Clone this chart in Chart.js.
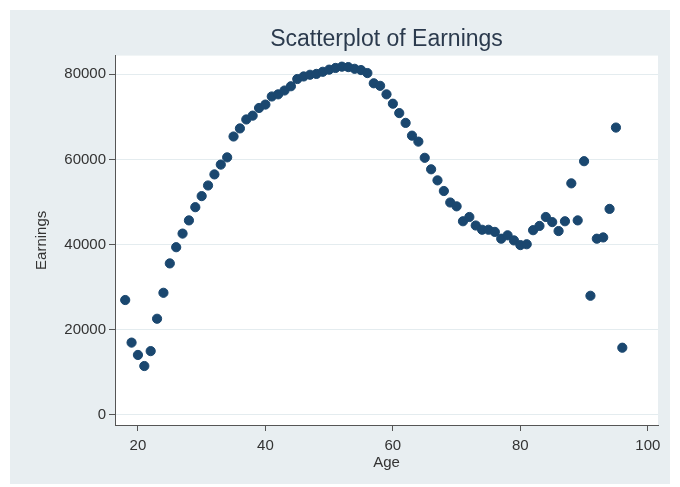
<!DOCTYPE html>
<html>
<head>
<meta charset="utf-8">
<script src="https://cdn.jsdelivr.net/npm/chart.js@4"></script>
<style>
    html, body { margin: 0; padding: 0; background: #ffffff; }
    #wrap { width: 680px; height: 487px; }
</style>
</head>
<body>
<div id="wrap"><canvas id="earningsChart" width="680" height="487"></canvas></div>
<script>
// Daten
const ages = [18, 19, 20, 21, 22, 23, 24, 25, 26, 27, 28, 29, 30, 31, 32, 33, 34, 35, 36, 37,
    38, 39, 40, 41, 42, 43, 44, 45, 46, 47, 48, 49, 50, 51, 52, 53, 54, 55, 56, 57,
    58, 59, 60, 61, 62, 63, 64, 65, 66, 67, 68, 69, 70, 71, 72, 73, 74, 75, 76, 77,
    78, 79, 80, 81, 82, 83, 84, 85, 86, 87, 88, 89, 90, 91, 92, 93, 94, 95, 96];
const earnings = [27000, 17000, 14100, 11500, 15000, 22600, 28700, 35600, 39400, 42600,
    45700, 48800, 51400, 53900, 56500, 58800, 60500, 65400, 67300, 69400,
    70300, 72100, 72900, 74800, 75300, 76200, 77200, 78900, 79500, 79900,
    80100, 80600, 81100, 81500, 81800, 81700, 81300, 81000, 80300, 77900,
    77300, 75300, 73100, 70900, 68600, 65600, 64200, 60400, 57700, 55100,
    52600, 49900, 49000, 45500, 46500, 44500, 43500, 43500, 43000, 41400,
    42200, 41000, 39900, 40100, 43400, 44400, 46500, 45300, 43200, 45500,
    54400, 45700, 59600, 28000, 41400, 41700, 48400, 67500, 15800];
const xTicks = [20, 40, 60, 80, 100];
const yTicks = [0, 20000, 40000, 60000, 80000];

const points = ages.map((a, i) => ({x: a, y: earnings[i]}));

// Hintergrund: graue Grafikregion, weisse Plotregion
const backgroundPlugin = {
    id: 'stataBackground',
    beforeDraw(chart) {
        const ctx = chart.ctx;
        const area = chart.chartArea;
        ctx.save();
        ctx.fillStyle = '#e8eef1';
        ctx.fillRect(10, 10, 660, 474);
        ctx.fillStyle = '#ffffff';
        ctx.fillRect(area.left, area.top, area.right - area.left, area.bottom - area.top);
        ctx.restore();
    }
};

const tickFont = {family: "'Liberation Sans', Arial, sans-serif", size: 15};

const ctx = document.getElementById("earningsChart");
const myScatterChart = new Chart(ctx, {
    type: 'scatter',
    data: {
        datasets: [{
            data: points,
            backgroundColor: '#1a476f',
            borderColor: '#1a476f',
            pointRadius: 4.6,
            pointHoverRadius: 4.6
        }]
    },
    options: {
        responsive: false,
        animation: false,
        layout: {
            padding: {left: 10, right: 22, top: 20, bottom: 10}
        },
        plugins: {
            legend: {display: false},
            tooltip: {enabled: false},
            title: {
                display: true,
                text: 'Scatterplot of Earnings',
                fullSize: false,
                color: '#2b3a4d',
                font: {family: "'Liberation Sans', Arial, sans-serif", size: 23, weight: 'normal'},
                padding: {top: 6, bottom: 2}
            }
        },
        scales: {
            x: {
                type: 'linear',
                min: 16.4,
                max: 101.6,
                afterBuildTicks: (scale) => { scale.ticks = xTicks.map(v => ({value: v})); },
                afterFit: (scale) => { scale.height = 52; },
                grid: {drawOnChartArea: false, drawTicks: true, tickLength: 6, tickColor: '#555555'},
                border: {color: '#555555', width: 1},
                ticks: {color: '#333333', font: tickFont, padding: 6, maxRotation: 0,
                    callback: (v) => String(v)},
                title: {
                    display: true,
                    text: 'Age',
                    color: '#333333',
                    font: tickFont,
                    padding: {top: 0, bottom: 5}
                }
            },
            y: {
                type: 'linear',
                min: -2350,
                max: 84400,
                afterBuildTicks: (scale) => { scale.ticks = yTicks.map(v => ({value: v})); },
                afterFit: (scale) => { scale.width = 105; },
                grid: {color: '#e4ecef', lineWidth: 1, drawTicks: true, tickLength: 6, tickColor: '#555555'},
                border: {color: '#555555', width: 1},
                ticks: {color: '#333333', font: tickFont, padding: 3,
                    callback: (v) => String(v)},
                title: {
                    display: true,
                    text: 'Earnings',
                    color: '#333333',
                    font: tickFont,
                    padding: {top: 23, bottom: 0}
                }
            }
        }
    },
    plugins: [backgroundPlugin]
});
</script>
</body>
</html>
